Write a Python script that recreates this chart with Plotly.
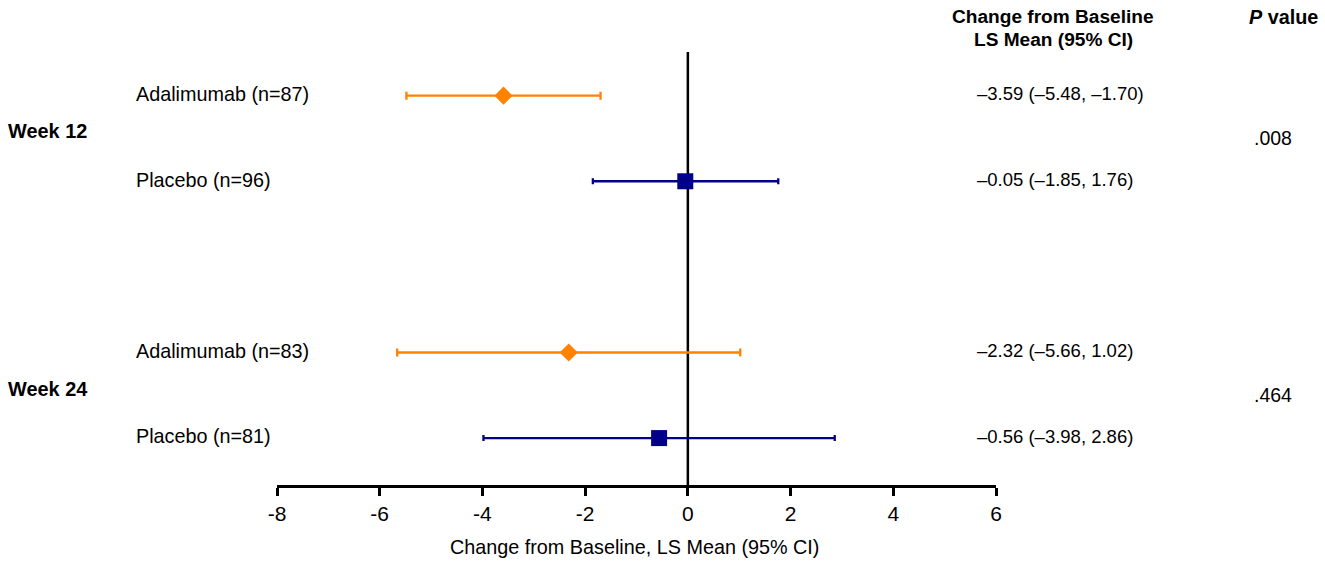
import plotly.graph_objects as go

# ---- data ----
groups = ["Adalimumab (n=87)", "Placebo (n=96)", "Adalimumab (n=83)", "Placebo (n=81)"]
row_pos = [0, 1, 3, 4]
means = [-3.59, -0.05, -2.32, -0.56]
lower = [-5.48, -1.85, -5.66, -3.98]
upper = [-1.70, 1.76, 1.02, 2.86]
value_labels = ["\u20133.59 (\u20135.48, \u20131.70)", "\u20130.05 (\u20131.85, 1.76)",
                "\u20132.32 (\u20135.66, 1.02)", "\u20130.56 (\u20133.98, 2.86)"]
weeks = ["Week 12", "Week 24"]
p_values = [".008", ".464"]
x_ticks = [-8, -6, -4, -2, 0, 2, 4, 6]
x_title = "Change from Baseline, LS Mean (95% CI)"

W, H = 1325, 564
L, R, T, B = 277, 996, 52, 485
ORANGE = "#FF8200"
NAVY = "#000088"
FONT = "Liberation Sans, Arial, sans-serif"
NARROW = "Liberation Sans Narrow, Arial Narrow, Liberation Sans, sans-serif"

def px(xp):
    return (xp - L) / (R - L)

def py(yp):
    return (B - yp) / (B - T)

fig = go.Figure()

styles = [("diamond", 14, ORANGE, 4), ("square", 16, NAVY, 3)]
for i in range(4):
    sym, size, col, cap = styles[i % 2]
    fig.add_trace(go.Scatter(
        x=[means[i]], y=[row_pos[i]], mode="markers",
        marker=dict(symbol=sym, size=size, color=col, line=dict(width=0)),
        error_x=dict(type="data", symmetric=False,
                     array=[upper[i] - means[i]], arrayminus=[means[i] - lower[i]],
                     color=col, thickness=2.3, width=cap),
        showlegend=False, hoverinfo="skip",
    ))

fig.add_shape(type="line", x0=0, x1=0, xref="x", yref="paper", y0=0, y1=1,
              line=dict(color="black", width=2.5), layer="below")

annotations = []
for i in range(4):
    annotations.append(dict(text=groups[i], x=px(134), xref="paper", y=row_pos[i] - 0.02, yref="y",
                            xanchor="left", yanchor="middle", showarrow=False,
                            font=dict(family=FONT, size=19.8, color="black")))
    annotations.append(dict(text=value_labels[i], x=px(974.5), xref="paper", y=row_pos[i] - 0.02, yref="y",
                            xanchor="left", yanchor="middle", showarrow=False,
                            font=dict(family=FONT, size=18.5, color="black")))

week_y = [131, 389]
p_y = [138, 395]
for i in range(2):
    annotations.append(dict(text="<b>%s</b>" % weeks[i], x=px(6), xref="paper", y=py(week_y[i]), yref="paper",
                            xanchor="left", yanchor="middle", showarrow=False,
                            font=dict(family=FONT, size=19.9, color="black")))
    annotations.append(dict(text=p_values[i], x=px(1252), xref="paper", y=py(p_y[i]), yref="paper",
                            xanchor="left", yanchor="middle", showarrow=False,
                            font=dict(family=FONT, size=19.5, color="black")))

annotations.append(dict(text="<b>Change from Baseline</b>", x=px(1053), xref="paper", y=py(17), yref="paper",
                        xanchor="center", yanchor="middle", showarrow=False,
                        font=dict(family=FONT, size=19.1, color="black")))
annotations.append(dict(text="<b>LS Mean (95% CI)</b>", x=px(1053), xref="paper", y=py(40), yref="paper",
                        xanchor="center", yanchor="middle", showarrow=False,
                        font=dict(family=FONT, size=19.1, color="black")))
annotations.append(dict(text="<b><i>P</i> value</b>", x=px(1283), xref="paper", y=py(17), yref="paper",
                        xanchor="center", yanchor="middle", showarrow=False,
                        font=dict(family=FONT, size=19.8, color="black")))
annotations.append(dict(text=x_title, x=px(634), xref="paper", y=py(547), yref="paper",
                        xanchor="center", yanchor="middle", showarrow=False,
                        font=dict(family=NARROW, size=19.8, color="black")))

fig.update_layout(
    width=W, height=H,
    margin=dict(l=L, r=W - R, t=T, b=H - B, pad=0, autoexpand=False),
    paper_bgcolor="white", plot_bgcolor="white",
    annotations=annotations,
    xaxis=dict(range=[-8, 6], tickvals=x_ticks, ticktext=[str(v) for v in x_ticks],
               showline=True, linecolor="black", linewidth=2.5,
               ticks="outside", ticklen=8, tickwidth=2.5, tickcolor="black",
               showgrid=False, zeroline=False, automargin=False,
               tickfont=dict(family=NARROW, size=21, color="black")),
    yaxis=dict(range=[4.548, -0.51], showticklabels=False, showgrid=False,
               zeroline=False, showline=False, ticks="", automargin=False),
)

fig.write_html("out.html")
